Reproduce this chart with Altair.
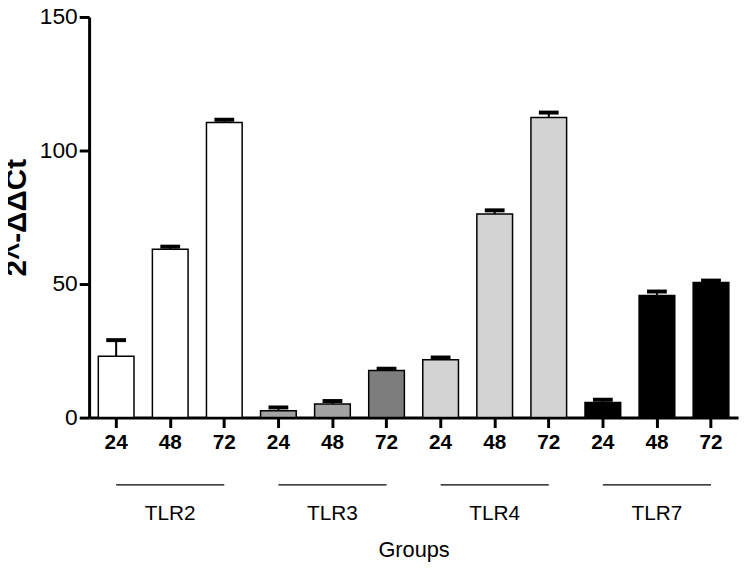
import altair as alt
import pandas as pd

groups = ["TLR2", "TLR3", "TLR4", "TLR7"]
hours = ["24", "48", "72"]
values = [23.0, 63.0, 110.5, 2.6, 5.1, 17.6, 21.7, 76.2, 112.4, 5.7, 45.7, 50.6]
errors = [6.0, 1.0, 1.0, 1.2, 1.1, 0.7, 0.8, 1.4, 1.8, 1.0, 1.5, 0.7]
bar_colors = ["#ffffff", "#ffffff", "#ffffff",
              "#a3a3a3", "#a3a3a3", "#7d7d7d",
              "#d3d3d3", "#d3d3d3", "#d3d3d3",
              "#000000", "#000000", "#000000"]

FONT = "Liberation Sans Narrow, Liberation Sans, Arial, sans-serif"
W, H = 656, 405

rows = []
i = 0
for g in groups:
    for h in hours:
        rows.append({"bar": f"{g}-{h}", "group": g, "hour": h,
                     "value": values[i], "top": values[i] + errors[i],
                     "color": bar_colors[i]})
        i += 1
df = pd.DataFrame(rows)
order = list(df["bar"])

gdf = pd.DataFrame({
    "group": groups,
    "start": [f"{g}-24" for g in groups],
    "mid": [f"{g}-48" for g in groups],
    "end": [f"{g}-72" for g in groups],
})

xscale = alt.Scale(domain=order, paddingInner=0.34, paddingOuter=0.17)
x = alt.X("bar:N", scale=xscale, sort=order,
          axis=alt.Axis(title="Groups", labelExpr="split(datum.label, '-')[1]",
                        labelAngle=0, labelFont=FONT, labelFontSize=21,
                        labelFontWeight="bold", labelColor="black", labelPadding=4,
                        tickSize=10, tickWidth=3, tickColor="black",
                        domainWidth=3, domainColor="black",
                        titleFont=FONT, titleFontSize=22, titleFontWeight="normal",
                        titleColor="black", titlePadding=88))
y = alt.Y("value:Q", scale=alt.Scale(domain=[0, 150], nice=False),
          axis=alt.Axis(title="2^-ΔΔCt", values=[0, 50, 100, 150], grid=False,
                        labelFont=FONT, labelFontSize=23, labelFontWeight="normal",
                        labelColor="black", labelPadding=2,
                        tickSize=10, tickWidth=3, tickColor="black",
                        domainWidth=3, domainColor="black",
                        titleFont=FONT, titleFontSize=30, titleFontWeight="bold",
                        titleColor="black", titlePadding=8))

bars = alt.Chart(df).mark_bar(stroke="black", strokeWidth=1.5).encode(
    x=x, y=y, color=alt.Color("color:N", scale=None))

stems = alt.Chart(df).mark_rule(color="black", strokeWidth=2).encode(
    x=alt.X("bar:N", scale=xscale, sort=order), y="value:Q", y2="top:Q")

caps = alt.Chart(df).mark_tick(color="black", thickness=4, size=20,
                               orient="horizontal", opacity=1).encode(
    x=alt.X("bar:N", scale=xscale, sort=order), y="top:Q")

lines = alt.Chart(gdf).mark_rule(color="black", strokeWidth=1.2).encode(
    x=alt.X("start:N", scale=xscale, sort=order),
    x2="end:N",
    y=alt.value(H + 68))

labels = alt.Chart(gdf).mark_text(font=FONT, fontSize=21, color="black").encode(
    x=alt.X("mid:N", scale=xscale, sort=order),
    y=alt.value(H + 98),
    text="group:N")

chart = alt.layer(bars, stems, caps, lines, labels).properties(
    width=W, height=H,
    autosize=alt.AutoSizeParams(type="none"),
    padding={"left": 82, "top": 6, "right": 4, "bottom": 150},
    background="white",
).configure_view(stroke=None)

chart.save("out.html", embed_options={"renderer": "svg", "actions": False})
